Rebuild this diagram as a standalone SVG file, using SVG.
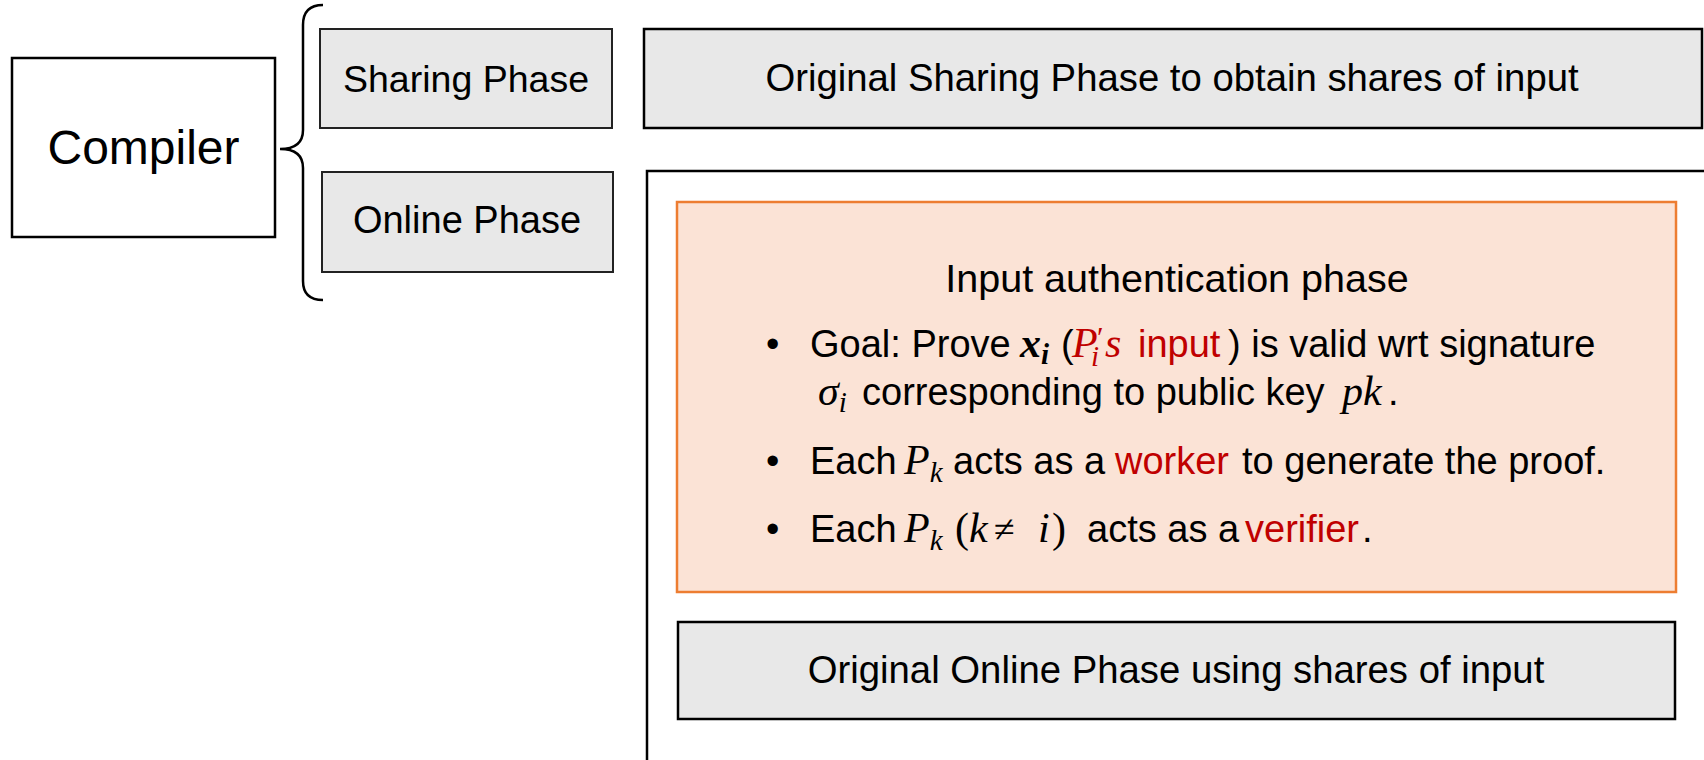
<svg xmlns="http://www.w3.org/2000/svg" width="1704" height="760" viewBox="0 0 1704 760">
<style>
.t{font-family:"Liberation Sans",Arial,sans-serif;fill:#000}
.m{font-family:"Liberation Serif","Times New Roman",serif;font-style:italic;fill:#000}
.n{font-style:normal}
.red{fill:#C00000}
.gray{fill:#E8E8E8;stroke:#222;stroke-width:2}
</style>
<rect width="1704" height="760" fill="#fff"/>
<g id="compiler">
<rect x="12" y="58" width="263" height="179" fill="#fff" stroke="#000" stroke-width="2.5"/>
<text class="t" x="143.5" y="164" font-size="48" text-anchor="middle">Compiler</text>
</g>
<g id="connectors">
<path d="M323,5 C310,5 303,11 303,25 L303,130 C303,142 296,149 280,149 C296,149 303,156 303,168 L303,281 C303,294 310,300 323,300" fill="none" stroke="#000" stroke-width="2.5"/>
</g>
<g id="sharing-phase">
<rect class="gray" x="320" y="29" width="292" height="99"/>
<text class="t" x="466" y="92" font-size="37.5" text-anchor="middle">Sharing Phase</text>
</g>
<g id="online-phase">
<rect class="gray" x="322" y="172" width="291" height="100"/>
<text class="t" x="467" y="233" font-size="38" text-anchor="middle">Online Phase</text>
</g>
<g id="original-sharing">
<rect x="644" y="29" width="1058" height="99" fill="#E8E8E8" stroke="#000" stroke-width="2.5"/>
<text class="t" x="1172" y="91" font-size="38.3" text-anchor="middle">Original Sharing Phase to obtain shares of input</text>
</g>
<g id="online-container">
<rect x="647" y="171" width="1080" height="620" fill="#fff" stroke="#000" stroke-width="2.5"/>
</g>
<g id="input-auth">
<rect x="677" y="202" width="999" height="390" fill="#FBE3D6" stroke="#ED7D31" stroke-width="2.5"/>
<text class="t" x="1177" y="292" font-size="39.5" text-anchor="middle">Input authentication phase</text>
<g font-size="38">
<text class="t" x="766" y="357">•</text>
<text class="t" x="810" y="357">Goal: Prove</text>
<text class="m" x="1020" y="357" font-size="42" font-weight="bold">x<tspan font-size="29" dy="7">i</tspan></text>
<text class="t" x="1061" y="357">(</text>
<text class="m red" x="1072" y="357" font-size="42">P</text>
<text class="m red n" x="1097" y="347" font-size="30">′</text>
<text class="m red" x="1091" y="366" font-size="29">i</text>
<text class="m red" x="1105" y="357" font-size="42">s</text>
<text class="t red" x="1138" y="357">input</text>
<text class="t" x="1228" y="357">) is valid wrt signature</text>
<text class="m" x="818" y="405" font-size="42">σ<tspan font-size="29" dy="7">i</tspan></text>
<text class="t" x="862" y="405">corresponding to public key</text>
<text class="m" x="1342" y="405" font-size="42">pk</text>
<text class="t" x="1388" y="405">.</text>
<text class="t" x="766" y="474">•</text>
<text class="t" x="810" y="474">Each</text>
<text class="m" x="904" y="474" font-size="42">P<tspan font-size="29" dy="8">k</tspan></text>
<text class="t" x="953" y="474">acts as a</text>
<text class="t red" x="1115" y="474">worker</text>
<text class="t" x="1242" y="474">to generate the proof.</text>
<text class="t" x="766" y="542">•</text>
<text class="t" x="810" y="542">Each</text>
<text class="m" x="904" y="542" font-size="42">P<tspan font-size="29" dy="8">k</tspan></text>
<text class="m n" x="955" y="542" font-size="42">(</text>
<text class="m" x="969" y="542" font-size="42">k</text>
<text class="m n" x="994" y="542" font-size="38">≠</text>
<text class="m" x="1038" y="542" font-size="42">i</text>
<text class="m n" x="1052" y="542" font-size="42">)</text>
<text class="t" x="1087" y="542">acts as a</text>
<text class="t red" x="1245" y="542">verifier</text>
<text class="t" x="1362" y="542">.</text>
</g>
</g>
<g id="original-online">
<rect x="678" y="622" width="997" height="97" fill="#E8E8E8" stroke="#000" stroke-width="2.5"/>
<text class="t" x="1176" y="683" font-size="38.3" text-anchor="middle">Original Online Phase using shares of input</text>
</g>
</svg>
